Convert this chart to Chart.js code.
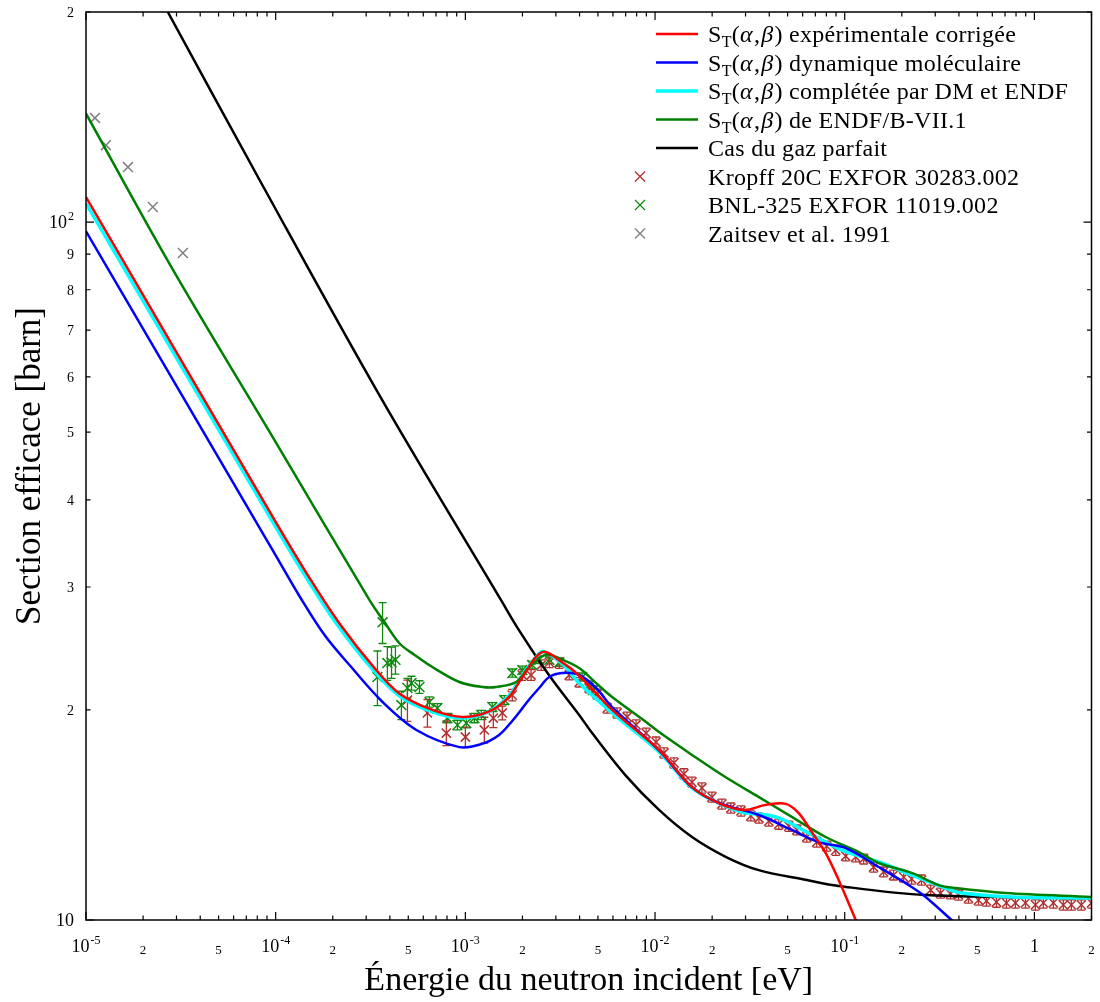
<!DOCTYPE html>
<html>
<head>
<meta charset="utf-8">
<script src="https://cdn.jsdelivr.net/npm/chart.js@4.4.0/dist/chart.umd.min.js"></script>
<style>
  html, body { margin: 0; padding: 0; background: #fff; }
  #wrap { width: 1100px; height: 1002px; }
</style>
</head>
<body>
<div id="wrap"><canvas id="xsChart" width="1100" height="1002"></canvas></div>
<script>
// energies in eV, cross sections in barn
const redE = [1e-5, 1e-4, 1.51e-4, 2.17e-4, 3.32e-4, 4.5e-4, 6.7e-4, 9.64e-4, 1.335e-3, 1.705e-3, 2.0e-3, 2.54e-3, 3.24e-3, 3.98e-3, 5.94e-3, 1.05e-2, 1.567e-2, 2.17e-2, 2.94e-2, 3.84e-2, 4.89e-2, 5.72e-2, 6.7e-2, 7.94e-2, 9.29e-2, 0.1143, 0.134];
const redS = [108.6, 37.2, 30.9, 26.6, 22.96, 21.1, 20.0, 19.54, 19.9, 20.9, 22.3, 24.2, 23.4, 22.4, 20.0, 17.52, 15.5, 14.71, 14.38, 14.62, 14.67, 14.23, 13.37, 12.47, 11.41, 10.0, 9.06];

const blueE = [1e-5, 1e-4, 1.336e-4, 1.81e-4, 2.45e-4, 3.66e-4, 5.52e-4, 9.3e-4, 1.2e-3, 1.5e-3, 1.77e-3, 2.17e-3, 2.45e-3, 2.77e-3, 3.24e-3, 3.98e-3, 4.89e-3, 5.94e-3, 1.05e-2, 1.567e-2, 2.17e-2, 3.53e-2, 5.26e-2, 7.3e-2, 0.1012, 0.151, 0.2254, 0.267, 0.366, 0.449];
const blueS = [97.0, 33.3, 29.1, 25.6, 23.19, 20.53, 18.72, 17.69, 17.85, 18.4, 19.3, 20.7, 21.5, 22.29, 22.59, 22.44, 21.5, 20.19, 17.5, 15.5, 14.71, 14.14, 13.46, 12.93, 12.68, 11.91, 11.15, 10.79, 10.0, 9.52];

const cyanE = [1e-5, 1e-4, 1.456e-4, 2.09e-4, 3.2e-4, 4.5e-4, 6.7e-4, 9.64e-4, 1.335e-3, 1.705e-3, 2.0e-3, 2.45e-3, 2.64e-3, 3.24e-3, 3.98e-3, 5.94e-3, 1.05e-2, 1.567e-2, 2.17e-2, 2.87e-2, 4.33e-2, 6.47e-2, 9.64e-2, 0.151, 0.2254, 0.34, 0.413, 0.757, 2];
const cyanS = [106.4, 36.6, 30.9, 26.6, 22.96, 20.93, 19.87, 19.47, 19.9, 21.0, 22.44, 24.1, 24.2, 23.3, 21.85, 19.8, 17.41, 15.46, 14.71, 14.28, 14.05, 13.32, 12.59, 12.11, 11.6, 11.11, 10.93, 10.79, 10.75];

const greenE = [1e-5, 2.84e-5, 1e-4, 3.13e-4, 3.75e-4, 4.5e-4, 5.4e-4, 6.7e-4, 9.3e-4, 1.23e-3, 1.456e-3, 1.854e-3, 2.17e-3, 2.67e-3, 3.24e-3, 3.98e-3, 4.89e-3, 5.94e-3, 8.97e-3, 1.05e-2, 1.567e-2, 2.37e-2, 3.53e-2, 5.26e-2, 7.94e-2, 0.1186, 0.151, 0.2254, 0.313, 0.384, 0.703, 2];
const greenS = [143, 85.9, 48.4, 28.7, 26.7, 24.9, 23.98, 23.04, 21.93, 21.57, 21.57, 21.93, 23.04, 24.0, 23.6, 22.96, 21.85, 20.87, 19.22, 18.59, 17.24, 16.0, 15.0, 14.05, 13.15, 12.51, 12.07, 11.68, 11.22, 11.11, 10.93, 10.79];

const gasE = [2e-5, 2.70e-5, 8.24e-5, 3.52e-4, 1.545e-3, 1.92e-3, 2.77e-3, 3.98e-3, 4.66e-3, 7.03e-3, 1.05e-2, 1.567e-2, 2.37e-2, 3.52e-2, 6.31e-2, 9.29e-2, 0.267, 2];
const gasS = [233, 200, 114.8, 56.5, 28.7, 26.0, 22.4, 19.67, 18.53, 16.09, 14.38, 13.15, 12.31, 11.79, 11.41, 11.19, 10.86, 10.75];

const kropffE = [4.95e-4, 6.31e-4, 7.94e-4, 1.0e-3, 1.259e-3, 1.404e-3, 1.566e-3, 1.767e-3, 1.995e-3, 2.22e-3, 2.51e-3, 2.77e-3, 3.13e-3, 3.53e-3, 3.98e-3, 4.49e-3, 4.95e-3, 5.59e-3, 6.31e-3, 7.12e-3, 7.94e-3, 8.97e-3, 1.012e-2, 1.115e-2, 1.259e-2, 1.42e-2, 1.566e-2, 1.767e-2, 1.995e-2, 2.25e-2, 2.51e-2, 2.84e-2, 3.2e-2, 3.53e-2, 3.98e-2, 4.49e-2, 5.07e-2, 5.59e-2, 6.31e-2, 7.12e-2, 8.04e-2, 8.97e-2, 0.1012, 0.1143, 0.1259, 0.142, 0.1604, 0.181, 0.2046, 0.2254, 0.254, 0.284, 0.32, 0.361, 0.398, 0.449, 0.507, 0.559, 0.631, 0.712, 0.794, 0.897, 1.012, 1.115, 1.259, 1.42, 1.566, 1.767, 2.0];
const kropffS = [20.66, 19.8, 18.53, 18.29, 18.72, 19.47, 19.8, 21.0, 22.44, 22.44, 23.19, 23.4, 23.34, 22.44, 21.92, 21.5, 21.07, 20.12, 19.8, 19.54, 19.03, 18.53, 17.99, 17.35, 16.79, 16.2, 15.76, 15.46, 15.0, 14.66, 14.47, 14.33, 14.1, 14.0, 13.86, 13.72, 13.63, 13.46, 13.15, 12.93, 12.76, 12.59, 12.35, 12.31, 12.23, 11.91, 11.72, 11.6, 11.52, 11.45, 11.41, 11.04, 10.93, 10.9, 10.86, 10.75, 10.68, 10.65, 10.61, 10.58, 10.58, 10.58, 10.51, 10.58, 10.58, 10.51, 10.51, 10.51, 10.58];
const kropffErr = [1.4, 0.9, 0.75, 0.6, 0.8, 0.6, 0.45, 0.4, 0.4, 0.4, 0.4, 0.4, 0.4, 0.35, 0.35, 0.35, 0.35, 0.33, 0.33, 0.32, 0.32, 0.3, 0.3, 0.29, 0.28, 0.27, 0.26, 0.26, 0.25, 0.24, 0.24, 0.24, 0.23, 0.23, 0.23, 0.23, 0.23, 0.22, 0.22, 0.21, 0.21, 0.21, 0.2, 0.2, 0.2, 0.2, 0.19, 0.19, 0.19, 0.19, 0.19, 0.18, 0.18, 0.18, 0.18, 0.18, 0.18, 0.18, 0.18, 0.18, 0.18, 0.18, 0.18, 0.18, 0.18, 0.18, 0.18, 0.18, 0.18];

const bnlE = [3.44e-4, 3.66e-4, 3.88e-4, 4.08e-4, 4.28e-4, 4.60e-4, 4.95e-4, 5.20e-4, 5.73e-4, 6.47e-4, 7.12e-4, 8.04e-4, 9.08e-4, 1.012e-3, 1.115e-3, 1.214e-3, 1.387e-3, 1.604e-3, 1.767e-3, 1.995e-3, 2.25e-3, 2.45e-3, 2.77e-3, 3.13e-3, 4.13e-3, 4.49e-3, 4.72e-3];
const bnlS = [22.29, 26.7, 23.34, 23.4, 23.6, 20.32, 21.5, 21.85, 21.57, 20.53, 20.12, 19.47, 19.03, 19.15, 19.47, 19.67, 20.19, 20.66, 22.59, 22.81, 23.19, 23.6, 23.6, 23.4, 22.29, 21.71, 21.35];
const bnlErr = [2.0, 1.8, 1.3, 1.2, 1.1, 0.95, 0.7, 0.5, 0.45, 0.35, 0.3, 0.3, 0.3, 0.3, 0.3, 0.3, 0.3, 0.3, 0.3, 0.3, 0.3, 0.3, 0.3, 0.3, 0.3, 0.3, 0.3];

const zaitsevE = [1.115e-5, 1.274e-5, 1.664e-5, 2.25e-5, 3.24e-5];
const zaitsevS = [141, 128.9, 119.9, 105.1, 90.3];

// axis ticks
const xLabelValues = [1e-5, 2e-5, 5e-5, 1e-4, 2e-4, 5e-4, 1e-3, 2e-3, 5e-3, 1e-2, 2e-2, 5e-2, 1e-1, 2e-1, 5e-1, 1, 2];
const xLabelTexts = ['10^-5', '2', '5', '10^-4', '2', '5', '10^-3', '2', '5', '10^-2', '2', '5', '10^-1', '2', '5', '1', '2'];
const yLabelValues = [10, 20, 30, 40, 50, 60, 70, 80, 90, 100, 200];
const yLabelTexts = ['10', '2', '3', '4', '5', '6', '7', '8', '9', '10^2', '2'];

const legendLabels = [
  ' expérimentale corrigée',
  ' dynamique moléculaire',
  ' complétée par DM et ENDF',
  ' de ENDF/B-VII.1',
  'Cas du gaz parfait',
  'Kropff 20C EXFOR 30283.002',
  'BNL-325 EXFOR 11019.002',
  'Zaitsev et al. 1991'
];

const FONT = '"Liberation Serif", "DejaVu Serif", serif';
const pts = (xs, ys) => xs.map((x, i) => ({ x: x, y: ys[i] }));

// tick marks every 1..9 x 10^n
const logTicks = (min, max) => {
  const out = [];
  for (let e = Math.floor(Math.log10(min)); e <= Math.ceil(Math.log10(max)); e++) {
    for (let m = 1; m <= 9; m++) {
      const v = +(m * Math.pow(10, e)).toPrecision(6);
      if (v >= min * 0.999 && v <= max * 1.001) out.push(v);
    }
  }
  return out;
};
const isDecade = v => Math.abs(Math.log10(v) - Math.round(Math.log10(v))) < 1e-6;

const lineSet = (key, label, xs, ys, color, width) => ({
  key, type: 'scatter', label, data: pts(xs, ys), showLine: true,
  borderColor: color, backgroundColor: color, borderWidth: width,
  pointRadius: 0, tension: 0.35
});
const markSet = (key, label, xs, ys, errs, color, r) => ({
  key, type: 'scatter', label, data: pts(xs, ys), showLine: false, errors: errs,
  pointStyle: 'crossRot', pointRadius: r, pointBorderWidth: 1.5,
  borderColor: color, backgroundColor: color
});

const drawSeq = (ctx, x, y, parts) => {
  parts.forEach(p => {
    ctx.font = p.f;
    ctx.fillText(p.t, x, y + (p.dy || 0));
    x += ctx.measureText(p.t).width + (p.gap || 0);
  });
  return x;
};

const drawTickLabel = (ctx, text, x, y, align, big, small) => {
  const [base, exp] = text.split('^');
  const isMajor = base === '10' || base === '1';
  const f1 = (isMajor ? big : small) + 'px ' + FONT;
  const f2 = '12px ' + FONT;
  ctx.font = f1; const w1 = ctx.measureText(base).width;
  ctx.font = f2; const w2 = exp ? ctx.measureText(exp).width + 1 : 0;
  const w = w1 + w2;
  const x0 = align === 'center' ? x - w / 2 : x - w;
  ctx.textAlign = 'left';
  ctx.font = f1; ctx.fillText(base, x0, y);
  if (exp) { ctx.font = f2; ctx.fillText(exp, x0 + w1 + 1, y - 8); }
};

const decoPlugin = {
  id: 'deco',
  beforeDatasetsDraw(chart) {
    // error bars
    const { ctx, chartArea: a, scales: { x, y } } = chart;
    ctx.save();
    ctx.beginPath(); ctx.rect(a.left, a.top, a.right - a.left, a.bottom - a.top); ctx.clip();
    chart.data.datasets.forEach(ds => {
      if (!ds.errors) return;
      ctx.strokeStyle = ds.borderColor; ctx.lineWidth = 1.3;
      ds.data.forEach((p, i) => {
        const px = x.getPixelForValue(p.x);
        const y1 = y.getPixelForValue(p.y + ds.errors[i]);
        const y2 = y.getPixelForValue(p.y - ds.errors[i]);
        ctx.beginPath();
        ctx.moveTo(px, y1); ctx.lineTo(px, y2);
        ctx.moveTo(px - 4, y1); ctx.lineTo(px + 4, y1);
        ctx.moveTo(px - 4, y2); ctx.lineTo(px + 4, y2);
        ctx.stroke();
      });
    });
    ctx.restore();
  },
  afterDraw(chart) {
    const { ctx, chartArea: a, scales: { x, y } } = chart;
    ctx.save();
    ctx.strokeStyle = '#000'; ctx.fillStyle = '#000'; ctx.lineWidth = 1.5;
    ctx.strokeRect(a.left, a.top, a.right - a.left, a.bottom - a.top);
    ctx.lineWidth = 1.2;
    ctx.beginPath();
    x.ticks.forEach(t => {
      const px = x.getPixelForValue(t.value), len = isDecade(t.value) ? 8 : 4.5;
      ctx.moveTo(px, a.bottom); ctx.lineTo(px, a.bottom - len);
      ctx.moveTo(px, a.top); ctx.lineTo(px, a.top + len);
    });
    y.ticks.forEach(t => {
      const py = y.getPixelForValue(t.value), len = isDecade(t.value) ? 8 : 4.5;
      ctx.moveTo(a.left, py); ctx.lineTo(a.left + len, py);
      ctx.moveTo(a.right, py); ctx.lineTo(a.right - len, py);
    });
    ctx.stroke();

    // tick labels
    ctx.textBaseline = 'alphabetic';
    xLabelValues.forEach((v, i) => {
      const t = xLabelTexts[i];
      const major = t.startsWith('1');
      drawTickLabel(ctx, t, x.getPixelForValue(v), a.bottom + (major ? 32 : 34), 'center', 18, 13);
    });
    yLabelValues.forEach((v, i) => {
      const big = yLabelTexts[i].startsWith('10');
      drawTickLabel(ctx, yLabelTexts[i], a.left - 12, y.getPixelForValue(v) + (big ? 6 : 5), 'right', 18, 14);
    });

    // axis titles
    ctx.textAlign = 'center';
    ctx.font = '34px ' + FONT;
    ctx.fillText('Énergie du neutron incident [eV]', (a.left + a.right) / 2, 990);
    ctx.save();
    ctx.translate(40, (a.top + a.bottom) / 2);
    ctx.rotate(-Math.PI / 2);
    ctx.font = '35px ' + FONT;
    ctx.fillText('Section efficace [barn]', 0, 0);
    ctx.restore();

    // legend
    const rowY = [34, 62.5, 91, 119.5, 148, 176.5, 205, 233.5];
    const sets = chart.data.datasets;
    const order = ['red', 'blue', 'cyan', 'green', 'gas', 'kropff', 'bnl', 'zaitsev'];
    const F = '24px ' + FONT;
    ctx.textAlign = 'left';
    ctx.letterSpacing = '0.3px';
    order.forEach((key, i) => {
      const ds = sets.find(d => d.key === key);
      const yy = rowY[i];
      ctx.strokeStyle = ds.borderColor; ctx.fillStyle = '#000';
      if (ds.showLine) {
        ctx.lineWidth = ds.borderWidth;
        ctx.beginPath(); ctx.moveTo(656, yy); ctx.lineTo(698, yy); ctx.stroke();
      } else {
        ctx.lineWidth = 1.3;
        ctx.beginPath();
        ctx.moveTo(635, yy - 5); ctx.lineTo(645, yy + 5);
        ctx.moveTo(635, yy + 5); ctx.lineTo(645, yy - 5);
        ctx.stroke();
      }
      const base = yy + 8;
      if (i < 4) {
        drawSeq(ctx, 708, base, [
          { t: 'S', f: F },
          { t: 'T', f: '16px ' + FONT, dy: 5 },
          { t: '(', f: F },
          { t: 'α', f: 'italic ' + F, gap: 1 },
          { t: ',', f: F, gap: 1 },
          { t: 'β', f: 'italic ' + F, gap: 1 },
          { t: ')' + legendLabels[i], f: F }
        ]);
      } else {
        drawSeq(ctx, 708, base, [{ t: legendLabels[i], f: F }]);
      }
    });
    ctx.restore();
  }
};

const datasets = [
  lineSet('red', 'expérimentale corrigée', redE, redS, '#ff0000', 2.5),
  lineSet('blue', 'dynamique moléculaire', blueE, blueS, '#0000ff', 2.5),
  lineSet('green', 'ENDF/B-VII.1', greenE, greenS, '#008000', 2.5),
  lineSet('cyan', 'complétée par DM et ENDF', cyanE, cyanS, '#00ffff', 3.5),
  lineSet('gas', 'Cas du gaz parfait', gasE, gasS, '#000000', 2.5),
  markSet('bnl', 'BNL-325 EXFOR 11019.002', bnlE, bnlS, bnlErr, '#108a10', 7),
  markSet('kropff', 'Kropff 20C EXFOR 30283.002', kropffE, kropffS, kropffErr, '#b03030', 6.5),
  markSet('zaitsev', 'Zaitsev et al. 1991', zaitsevE, zaitsevS, null, '#808080', 7)
];

new Chart(document.getElementById('xsChart').getContext('2d'), {
  type: 'scatter',
  data: { datasets },
  options: {
    responsive: false,
    animation: false,
    layout: { padding: { left: 86, right: 7, top: 12, bottom: 82 } },
    plugins: { legend: { display: false }, tooltip: { enabled: false } },
    scales: {
      x: {
        type: 'logarithmic', min: 1e-5, max: 2,
        afterBuildTicks: s => { s.ticks = logTicks(1e-5, 2).map(v => ({ value: v })); },
        grid: { display: false, drawTicks: false },
        border: { display: false },
        ticks: { display: false }
      },
      y: {
        type: 'logarithmic', min: 10, max: 200,
        afterBuildTicks: s => { s.ticks = logTicks(10, 200).map(v => ({ value: v })); },
        grid: { display: false, drawTicks: false },
        border: { display: false },
        ticks: { display: false }
      }
    }
  },
  plugins: [decoPlugin]
});
</script>
</body>
</html>
